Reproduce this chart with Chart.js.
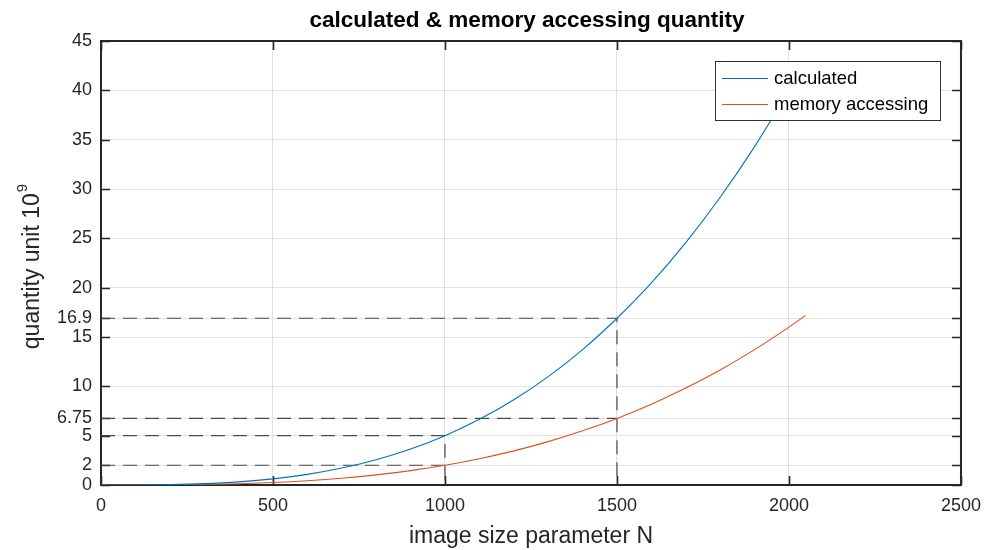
<!DOCTYPE html>
<html>
<head>
<meta charset="utf-8">
<script src="https://cdn.jsdelivr.net/npm/chart.js@4"></script>
<style>
  html, body { margin: 0; padding: 0; background: #fff; }
  #c { display: block; }
</style>
</head>
<body>
<canvas id="c" width="991" height="550"></canvas>
<script>
// Image size parameter N and the two quantities (unit 10^9)
const sizeN = [0, 100, 200, 300, 400, 500, 600, 700, 800, 900, 1000, 1100, 1200, 1300, 1400, 1500, 1600, 1700, 1800, 1900, 2000, 2048];
const calculated = [0, 0.005, 0.04, 0.135, 0.32, 0.625, 1.08, 1.715, 2.56, 3.645, 5, 6.655, 8.64, 10.985, 13.72, 16.9, 20.48, 24.565, 29.16, 34.295, 40, 42.95];
const memoryAccessing = [0, 0.002, 0.016, 0.054, 0.128, 0.25, 0.432, 0.686, 1.024, 1.458, 2, 2.662, 3.456, 4.394, 5.488, 6.75, 8.192, 9.826, 11.664, 13.718, 16, 17.18];

// Marked sizes with their read-off values
const markN = [1000, 1500];
const markCalculated = [5, 16.9];
const markMemory = [2, 6.75];

// Axis ticks
const xTickValues = [0, 500, 1000, 1500, 2000, 2500];
const yTickValues = [0, 2, 5, 6.75, 10, 15, 16.9, 20, 25, 30, 35, 40, 45];

const FONT = '"Liberation Sans", Arial, Helvetica, sans-serif';
const INK = '#262626';
const BLUE = '#0072BD';
const ORANGE = '#D95319';

const toPoints = (xs, ys) => xs.map((x, i) => ({ x: x, y: ys[i] }));

// Dashed guide lines: horizontal from the y axis to the mark, and a drop to the x axis
const guideSets = [];
markN.forEach((n, i) => {
  guideSets.push({
    label: 'guide',
    data: [{ x: 0, y: markCalculated[i] }, { x: n, y: markCalculated[i] }, { x: n, y: 0 }],
    borderColor: '#4a4a4a', borderWidth: 1.2, borderDash: [14, 8],
    pointRadius: 0, fill: false, tension: 0
  });
  guideSets.push({
    label: 'guide',
    data: [{ x: 0, y: markMemory[i] }, { x: n, y: markMemory[i] }],
    borderColor: '#4a4a4a', borderWidth: 1.2, borderDash: [14, 8],
    pointRadius: 0, fill: false, tension: 0
  });
});

// Box, inward ticks, title, y label and legend
const framePlugin = {
  id: 'frame',
  beforeDatasetsDraw(chart) {
    const ctx = chart.ctx;
    const a = chart.chartArea;
    const xs = chart.scales.x, ys = chart.scales.y;
    ctx.save();
    ctx.strokeStyle = INK;
    ctx.lineWidth = 1.6;
    const tl = 9;
    ctx.beginPath();
    xTickValues.forEach(v => {
      const px = Math.round(xs.getPixelForValue(v)) + 0.5;
      ctx.moveTo(px, a.bottom); ctx.lineTo(px, a.bottom - tl);
      ctx.moveTo(px, a.top); ctx.lineTo(px, a.top + tl);
    });
    yTickValues.forEach(v => {
      const py = Math.round(ys.getPixelForValue(v)) + 0.5;
      ctx.moveTo(a.left, py); ctx.lineTo(a.left + tl, py);
      ctx.moveTo(a.right, py); ctx.lineTo(a.right - tl, py);
    });
    ctx.stroke();
    ctx.lineWidth = 2;
    ctx.strokeRect(a.left, a.top, a.right - a.left, a.bottom - a.top);
    ctx.restore();
  },
  afterDraw(chart) {
    const ctx = chart.ctx;
    const a = chart.chartArea;
    ctx.save();
    // title
    ctx.fillStyle = '#000';
    ctx.font = 'bold 22.5px ' + FONT;
    ctx.textAlign = 'center';
    ctx.textBaseline = 'middle';
    ctx.fillText('calculated & memory accessing quantity', (a.left + a.right) / 2 - 4, 21);

    // y axis label with superscript
    ctx.fillStyle = INK;
    ctx.translate(43, 267);
    ctx.rotate(-Math.PI / 2);
    const main = 'quantity unit 10';
    ctx.font = '23px ' + FONT;
    const w1 = ctx.measureText(main).width;
    ctx.font = '15px ' + FONT;
    const w2 = ctx.measureText('9').width;
    const start = -(w1 + w2) / 2;
    ctx.textAlign = 'left';
    ctx.textBaseline = 'alphabetic';
    ctx.font = '23px ' + FONT;
    ctx.fillText(main, start, -4);
    ctx.font = '15px ' + FONT;
    ctx.fillText('9', start + w1 + 1, -16);
    ctx.restore();

    // legend
    ctx.save();
    const lx = 715, ly = 61, lw = 225, lh = 59;
    ctx.fillStyle = '#fff';
    ctx.fillRect(lx, ly, lw, lh);
    ctx.strokeStyle = '#333';
    ctx.lineWidth = 1;
    ctx.strokeRect(lx + 0.5, ly + 0.5, lw, lh);
    const entries = [
      { text: 'calculated', color: BLUE, y: ly + 17 },
      { text: 'memory accessing', color: ORANGE, y: ly + 43 }
    ];
    ctx.font = '18.5px ' + FONT;
    ctx.textBaseline = 'middle';
    ctx.textAlign = 'left';
    entries.forEach(e => {
      ctx.strokeStyle = e.color;
      ctx.lineWidth = 1.2;
      ctx.beginPath();
      ctx.moveTo(lx + 7, e.y + 0.5);
      ctx.lineTo(lx + 53, e.y + 0.5);
      ctx.stroke();
      ctx.fillStyle = '#000';
      ctx.fillText(e.text, lx + 59, e.y + 1);
    });
    ctx.restore();
  }
};

new Chart(document.getElementById('c'), {
  type: 'line',
  data: {
    datasets: [
      {
        label: 'calculated',
        data: toPoints(sizeN, calculated),
        borderColor: BLUE, borderWidth: 1.1,
        pointRadius: 0, fill: false, cubicInterpolationMode: 'monotone'
      },
      {
        label: 'memory accessing',
        data: toPoints(sizeN, memoryAccessing),
        borderColor: ORANGE, borderWidth: 1.1,
        pointRadius: 0, fill: false, cubicInterpolationMode: 'monotone'
      },
      ...guideSets
    ]
  },
  options: {
    responsive: false,
    animation: false,
    devicePixelRatio: 1,
    layout: { padding: { top: 41, right: 28, left: 0, bottom: 0 } },
    plugins: {
      legend: { display: false },
      title: { display: false },
      tooltip: { enabled: false }
    },
    scales: {
      x: {
        type: 'linear',
        min: 0, max: 2500,
        afterBuildTicks: s => { s.ticks = xTickValues.map(v => ({ value: v })); },
        afterFit: s => { s.height = 65; },
        grid: { color: '#e2e2e2', lineWidth: 1, drawTicks: false },
        border: { display: false },
        ticks: {
          autoSkip: false, maxRotation: 0, padding: 10,
          color: INK, font: { family: FONT, size: 18 },
          callback: v => String(v)
        },
        title: {
          display: true, text: 'image size parameter N',
          color: INK, font: { family: FONT, size: 23 },
          padding: { top: 0, bottom: 0 }
        }
      },
      y: {
        type: 'linear',
        min: 0, max: 45,
        afterBuildTicks: s => { s.ticks = yTickValues.map(v => ({ value: v })); },
        afterFit: s => { s.width = 101; },
        grid: { color: '#e2e2e2', lineWidth: 1, drawTicks: false },
        border: { display: false },
        ticks: {
          autoSkip: false, padding: 9,
          color: INK, font: { family: FONT, size: 18, lineHeight: 1.0 },
          callback: v => String(v)
        }
      }
    }
  },
  plugins: [framePlugin]
});
</script>
</body>
</html>
